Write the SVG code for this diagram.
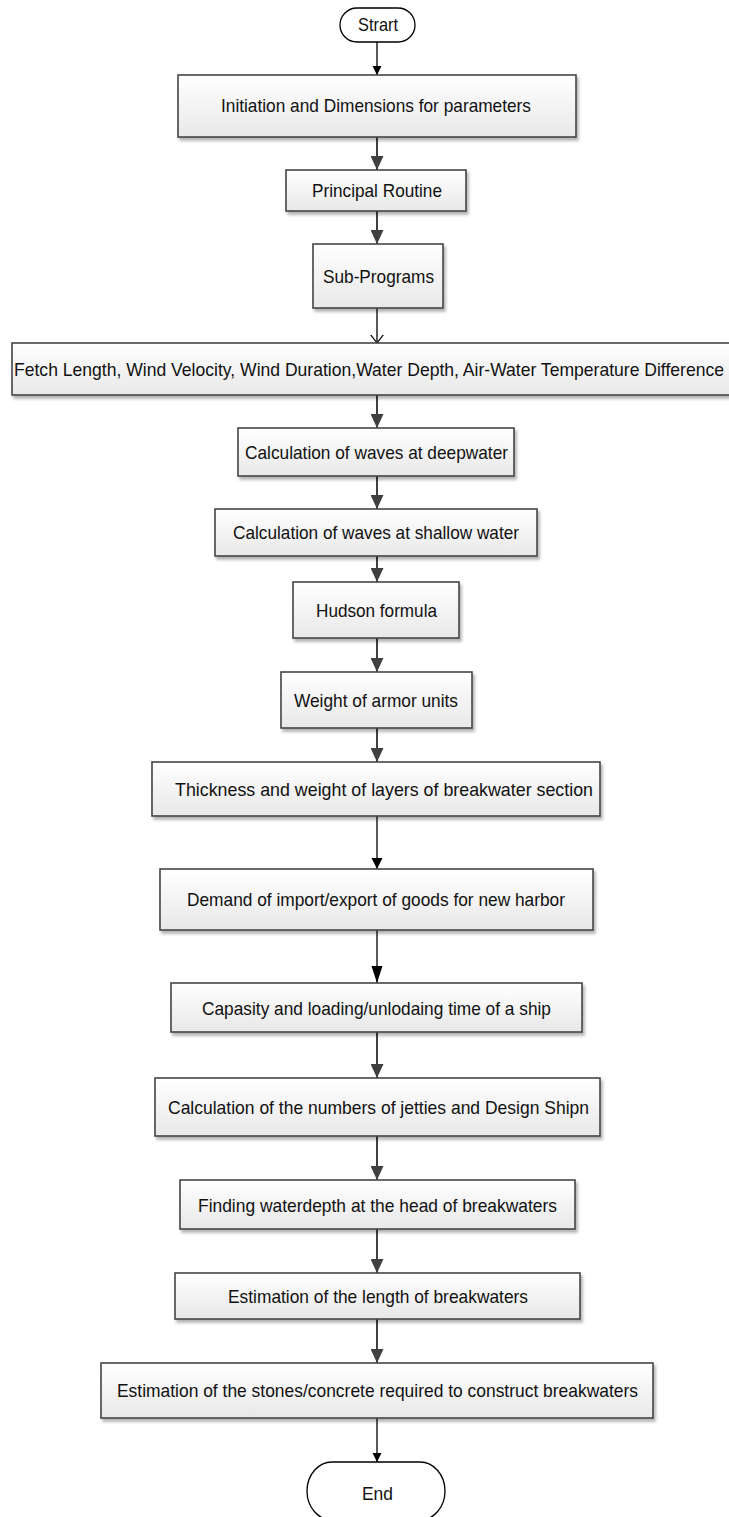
<svg xmlns="http://www.w3.org/2000/svg" width="729" height="1517" viewBox="0 0 729 1517">
<defs>
<linearGradient id="bg" x1="0" y1="0" x2="0" y2="1"><stop offset="0" stop-color="#ffffff"/><stop offset="1" stop-color="#e8e8e8"/></linearGradient>
<filter id="sh" x="-5%" y="-20%" width="115%" height="160%"><feDropShadow dx="2" dy="3" stdDeviation="1.5" flood-color="#000" flood-opacity="0.3"/></filter>
<marker id="ag" markerUnits="userSpaceOnUse" markerWidth="15" markerHeight="13" refX="14" refY="6.5" orient="auto"><path d="M0,0 L14,6.5 L0,13 Z" fill="#404040"/></marker>
<marker id="ab" markerUnits="userSpaceOnUse" markerWidth="10" markerHeight="10" refX="9" refY="4.5" orient="auto"><path d="M0,0 L9,4.5 L0,9 Z" fill="#000"/></marker>
<marker id="am" markerUnits="userSpaceOnUse" markerWidth="12" markerHeight="12" refX="11" refY="5.5" orient="auto"><path d="M0,0 L11,5.5 L0,11 Z" fill="#000"/></marker>
<marker id="al" markerUnits="userSpaceOnUse" markerWidth="18" markerHeight="12" refX="17" refY="5.5" orient="auto"><path d="M0,0 L17,5.5 L0,11 Z" fill="#000"/></marker>
<marker id="av" markerUnits="userSpaceOnUse" markerWidth="10" markerHeight="14" refX="8.5" refY="6.5" orient="auto"><path d="M0,0 L8.5,6.5 L0,13" fill="none" stroke="#000" stroke-width="1.2"/></marker>
</defs>
<style>
.box{fill:url(#bg);stroke:#454545;stroke-width:1.6;filter:url(#sh)}
.term{fill:#fff;stroke:#000;stroke-width:1.3}
text{font-family:"Liberation Sans",Arial,sans-serif;font-size:19px;fill:#111}
.g{stroke:#404040;stroke-width:2;fill:none;marker-end:url(#ag)}
.k{stroke:#000;stroke-width:1.3;fill:none}
</style>
<rect width="729" height="1517" fill="#fff"/>
<g id="connectors">
<path class="k" d="M377,42 V75" marker-end="url(#ab)"/>
<path class="g" d="M377,137 V170"/>
<path class="g" d="M377,211 V244"/>
<path class="k" d="M377,308 V343" marker-end="url(#av)"/>
<path class="g" d="M377,395 V428"/>
<path class="g" d="M377,476 V509"/>
<path class="g" d="M377,556 V582"/>
<path class="g" d="M377,638 V672"/>
<path class="g" d="M377,728 V762"/>
<path class="k" d="M377,816 V869" marker-end="url(#am)"/>
<path class="k" d="M377,930 V983" marker-end="url(#al)"/>
<path class="g" d="M377,1032 V1078"/>
<path class="g" d="M377,1136 V1180"/>
<path class="g" d="M377,1229 V1273"/>
<path class="g" d="M377,1319 V1363"/>
<path class="k" d="M377,1418 V1462" marker-end="url(#ab)"/>
</g>
<g id="start"><rect class="term" x="340" y="8" width="75" height="34" rx="17"/><text x="358" y="31" textLength="40" lengthAdjust="spacingAndGlyphs">Strart</text></g>
<g id="initiation"><rect class="box" x="178" y="75" width="398" height="62"/><text x="221" y="112" textLength="310" lengthAdjust="spacingAndGlyphs">Initiation and Dimensions for parameters</text></g>
<g id="principal"><rect class="box" x="286" y="170" width="180" height="41"/><text x="312" y="197" textLength="130" lengthAdjust="spacingAndGlyphs">Principal Routine</text></g>
<g id="subprograms"><rect class="box" x="313" y="244" width="130" height="64"/><text x="323" y="283" textLength="111" lengthAdjust="spacingAndGlyphs">Sub-Programs</text></g>
<g id="fetch"><rect class="box" x="12" y="343" width="730" height="52"/><text x="14" y="376" textLength="710" lengthAdjust="spacingAndGlyphs">Fetch Length, Wind Velocity, Wind Duration,Water Depth, Air-Water Temperature Difference</text></g>
<g id="deepwater"><rect class="box" x="238" y="428" width="276" height="48"/><text x="245" y="459" textLength="263" lengthAdjust="spacingAndGlyphs">Calculation of waves at deepwater</text></g>
<g id="shallow"><rect class="box" x="215" y="509" width="322" height="47"/><text x="233" y="539" textLength="286" lengthAdjust="spacingAndGlyphs">Calculation of waves at shallow water</text></g>
<g id="hudson"><rect class="box" x="293" y="582" width="166" height="56"/><text x="316" y="617" textLength="121" lengthAdjust="spacingAndGlyphs">Hudson formula</text></g>
<g id="weight"><rect class="box" x="281" y="672" width="191" height="56"/><text x="294" y="707" textLength="164" lengthAdjust="spacingAndGlyphs">Weight of armor units</text></g>
<g id="thickness"><rect class="box" x="152" y="762" width="448" height="54"/><text x="175" y="796" textLength="418" lengthAdjust="spacingAndGlyphs">Thickness and weight of layers of breakwater section</text></g>
<g id="demand"><rect class="box" x="160" y="869" width="433" height="61"/><text x="187" y="906" textLength="378" lengthAdjust="spacingAndGlyphs">Demand of import/export of goods for new harbor</text></g>
<g id="capasity"><rect class="box" x="171" y="983" width="411" height="49"/><text x="202" y="1015" textLength="349" lengthAdjust="spacingAndGlyphs">Capasity and loading/unlodaing time of a ship</text></g>
<g id="jetties"><rect class="box" x="155" y="1078" width="445" height="58"/><text x="168" y="1114" textLength="421" lengthAdjust="spacingAndGlyphs">Calculation of the numbers of jetties and Design Shipn</text></g>
<g id="finding"><rect class="box" x="180" y="1180" width="395" height="49"/><text x="198" y="1212" textLength="359" lengthAdjust="spacingAndGlyphs">Finding waterdepth at the head of breakwaters</text></g>
<g id="length"><rect class="box" x="175" y="1273" width="405" height="46"/><text x="228" y="1303" textLength="300" lengthAdjust="spacingAndGlyphs">Estimation of the length of breakwaters</text></g>
<g id="stones"><rect class="box" x="101" y="1363" width="552" height="55"/><text x="117" y="1397" textLength="521" lengthAdjust="spacingAndGlyphs">Estimation of the stones/concrete required to construct breakwaters</text></g>
<g id="end"><rect class="term" x="307" y="1462" width="138" height="58" rx="25" ry="29"/><text x="362" y="1500" textLength="31" lengthAdjust="spacingAndGlyphs">End</text></g>
</svg>
